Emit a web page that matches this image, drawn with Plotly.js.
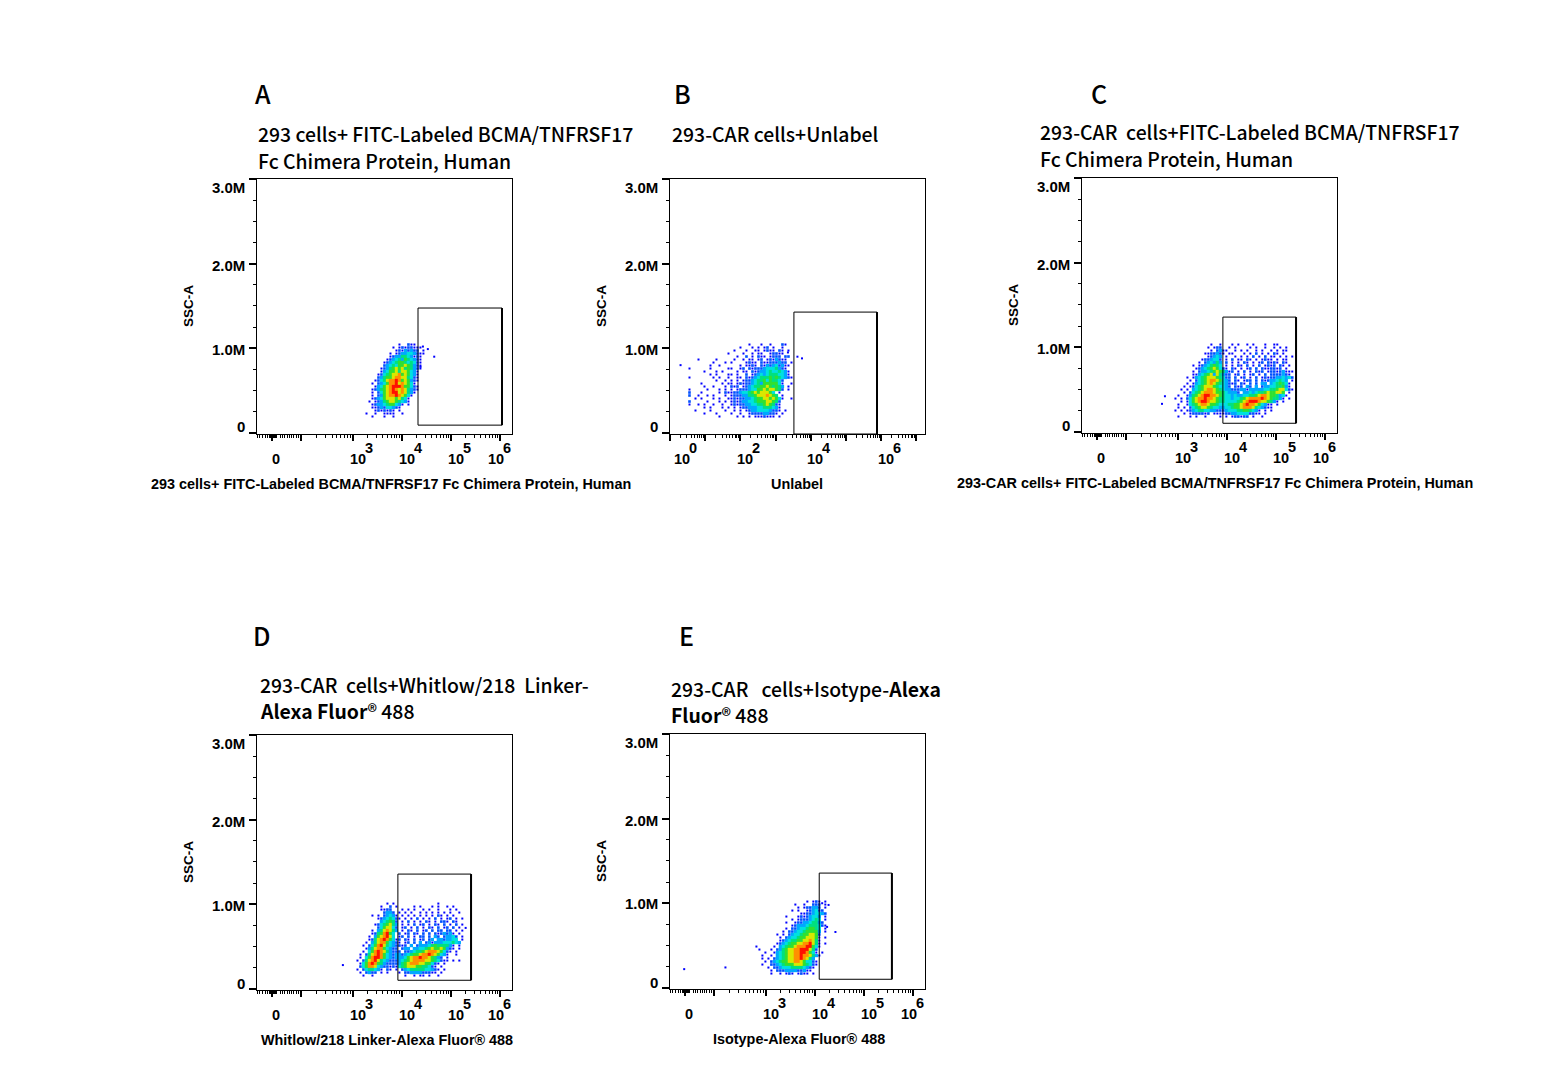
<!DOCTYPE html>
<html>
<head>
<meta charset="utf-8">
<script src="https://cdn.plot.ly/plotly-3.0.1.min.js"></script>
<style>
  html, body { margin: 0; padding: 0; background: #fff; }
</style>
</head>
<body>
<div id="chart" style="width:1556px;height:1092px"></div>
<script>
// density, 0-9 per cell, top row first ("." = no events)
const densityA = [
  "............1..211...",
  "..........1.12122111.",
  "...........12132322.1",
  ".........1.1233443211",
  ".........12335543121.",
  "........123453654321.",
  ".......1234566545421.",
  ".......2345466765321.",
  "......12356767565321.",
  "......1346675776431..",
  ".....12456778676431..",
  ".....23566788775421..",
  "....124578898676321..",
  "...1.2346889787641...",
  "....134678999866421..",
  "...1235678987875321..",
  "...1.2467899787531...",
  "...1.236788987641....",
  "...1234677767541.....",
  "..1.123567765431.....",
  "...12334566431.1.....",
  "...1123244321........",
  "....1212121.1........",
  ".1..1..1111..1.......",
  "...1...1..1.........."
];
const densityB = [
  ".......................1...1..1...21..",
  "....................1...1.1.12.1..1...",
  "..................1...1..11.1211.21.1.",
  "................1....1..1.11..12211...",
  "...................1..2.1.211.1222.22.",
  "......1.....1.....1..1.11.12.1213211..",
  "...........1...1.1....1211.211222322.1",
  "..........1..1......1.1121.2132342311.",
  "...1......1.....11..12.2122234445321..",
  "........1...1.1....1.11.2123345445431.",
  "..........1.1...11.1..2.1234345554431.",
  "...1.......1.1..1..11.2123455565654321",
  "............1..1.1.1.12234556465542...",
  ".......1......1.11.1212234536666641..1",
  "........1..1...1.212.12345566765653.1.",
  "...1.....1...1.1.1.1222344667677652.1.",
  "...2...1.....1.21122344567677764.1....",
  "...2..1..1.1...1.1222335567778765.1...",
  ".....1.1...1.1..1121223345667767641..1",
  "...2.....1...1.1.12123344566677652....",
  "...1..1.1..1..1..12122334455676521....",
  "........1.1...1.1.1.12233344555431....",
  ".....1....1....1..1.1.123344443221.1..",
  "........1...1....1..1..1222233221.1...",
  ".............1.....1.1.1.1112111.1...."
];
const densityC = [
  "................1..1...1.1..1.1...1..11.....",
  "...............1.122..1.1....1.1..1..1.1.1.",
  "................1.2311..1.1.1..1.1..1.1.11..",
  "..............1122321.11...1.1.2.1.1.21.1...",
  "...............12343.1..1.1.1.2.1.2.11.1.1.1",
  ".............1223442.1.2.11.21.1.1211.1.11..",
  "............1.234353.2.1.1.21.1.12.2121.21..",
  "..........1.12345654.1.1.21.2.1.2.1212.21.1.",
  "...........12345676421.21.1.12.2.2112212.1..",
  "..........1.233456765312.1.2.1.212.122123111",
  "..........1134567375322.12.1.12.1.2.2222321.",
  "........1.1345677765422.2.12.1.2.12122334342",
  ".........1.245678876432.21.122.2.212334543.1",
  "........1.134567876543212.21.2.2.33.3456541.",
  ".......1.12456777654432.212.32.3.2334455631.",
  "......1.1.3456788765433222331333334455677421",
  ".......1.24567888766543332.33434556766776.1.",
  ".....1..1356789988765443433445567887665341..",
  "....1.1.246788988765544344567888898765531.1.",
  "......1.1467899877655444456789998776531.1...",
  ".....1..14567887665444556678988764311.1.....",
  ".....1.1.2456776544334456678887543211.......",
  "....1.1.1234554433222344455665431.1.1.......",
  ".......1.1222212.1111223344442211.1.........",
  ".....1...1.1..1....1.1.122122.1..1.........."
];
const densityD = [
  ".............1.1..............1........",
  "...........1..2.1.....1.1...1.1..1.1...",
  "...........1122...1.1.1..1.1..1...1.1..",
  "............2332.1.1.1..1.1.1.1.1.1..1.",
  "........1.1.23431.1.1.1.1.1.1.21.1.1...",
  "..........12345421.1.1.2.1.1.2.1.12.1.1",
  "...........345652.1.2.1.1.21.1.221.21..",
  ".........12456753.1.1.2.12.1.21.2.1.2.1",
  "..........2467742.12.1.2.1.21.2.12.2.1.",
  "........1.3578753.1.21.2.12.2.22.22.1.1",
  "........12568964.2.12.21.2.2.2123231.1.",
  ".......1.3678974.12.2.1.22.2.32.23342.1",
  ".......12578986412.21.2.12.23.3323344.1",
  "......1.3578864321.12.2.3.231333444543.",
  ".....1.2468975432212.3.2333456555531.1.",
  "......13578864322.233.33445676676321.1.",
  ".....1.46898753222.2234556788876421.1..",
  "....1.2578986432332345667889876431..1..",
  "....1.46899864323334678898876532.1.....",
  "...1.25789754322234567888877654211.1.1.",
  "....146898653222235678887766421.1......",
  "....24688743221214567776655421.1.......",
  "...1.2455431.21.1.2345555544321.1......",
  "....1.2322.1.1...1.22333322211.1.......",
  ".....1..1..........1..1.11.1..1........"
];
const densityE = [
  "..................1.121.1..",
  "..............1..1..222.1..",
  "...............1.122332.1..",
  ".............1.1..123422...",
  "................112234432..",
  "...........1...12123443.1..",
  ".............1.12223454.1..",
  "...........1..1223345532...",
  ".............123334555421..",
  "...........1.2234456654.1..",
  "..........1.22344566663.1..",
  "........1.1.23445667762....",
  ".........1.234456677761.1..",
  ".........12345566778751....",
  "........123456677889751.1..",
  ".1.....1.34566788899641....",
  "..1...1.23567788999752.....",
  "....1..134567788998641.1...",
  "...1..1.345677889887531....",
  "...1.1.23456778898753......",
  "....1.2345667788764421.....",
  "...1..2234566677765421.....",
  ".....1.22344455554321......",
  "......1.222333322311.......",
  "......1..1.121.1211.1......"
];

// lone events outside the dense clouds (x in decades, y in millions)
const strayAx = [4.43, 4.53, 4.66, 4.38];
const strayAy = [1.02, 0.99, 0.90, 0.78];
const strayBx = [3.35, 3.62, 3.75, 0.30];
const strayBy = [0.95, 0.90, 0.88, 0.80];
const strayCx = [2.68, 2.74];
const strayCy = [0.33, 0.42];
const strayDx = [2.80, 5.30];
const strayDy = [0.28, 0.72];
const strayEx = [4.15, 4.28, 4.42, 1.34, 2.18, 4.25];
const strayEy = [1.00, 0.98, 0.66, 0.22, 0.24, 0.72];

// gate rectangles
const gateX = [[4.33, 6.04], [3.52, 5.88], [3.92, 5.41], [3.92, 5.41], [4.09, 5.57]];
const gateY = [[0.09, 1.476], [-0.015, 1.428], [0.10, 1.357], [0.10, 1.357], [0.10, 1.357]];

const letters = ["A", "B", "C", "D", "E"];
const titleLines = [
  ["293 cells+ FITC-Labeled BCMA/TNFRSF17", "Fc Chimera Protein, Human"],
  ["293-CAR cells+Unlabel"],
  ["293-CAR\u00a0 cells+FITC-Labeled BCMA/TNFRSF17", "Fc Chimera Protein, Human"],
  ["293-CAR\u00a0 cells+Whitlow/218\u00a0 Linker-", "<b>Alexa Fluor</b>\u00ae 488"],
  ["293-CAR\u00a0\u00a0 cells+Isotype-<b>Alexa</b>", "<b>Fluor</b>\u00ae 488"]
];
const xLabels = [
  "293 cells+ FITC-Labeled BCMA/TNFRSF17 Fc Chimera Protein, Human",
  "Unlabel",
  "293-CAR cells+ FITC-Labeled BCMA/TNFRSF17 Fc Chimera Protein, Human",
  "Whitlow/218 Linker-Alexa Fluor\u00ae 488",
  "Isotype-Alexa Fluor\u00ae 488"
];
const yTickText = ["3.0M", "2.0M", "1.0M", "0"];

// page layout of each panel, in pixels
const panels = [
  {left: 257, top: 179, range: [1.051, 6.244], x0: 3.22, dx: 0.061, y0: 1.044, z: densityA, sx: strayAx, sy: strayAy,
   letter: [263, 93], title: [256, 133, 160], xlab: [391, 484], ylab: [188, 305]},
  {left: 670, top: 179, range: [0, 7.244], x0: 0.298, dx: 0.0852, y0: 1.044, z: densityB, sx: strayBx, sy: strayBy,
   letter: [682, 93], title: [670, 133], xlab: [797, 484], ylab: [601, 305]},
  {left: 1082, top: 178, range: [1.051, 6.244], x0: 2.71, dx: 0.061, y0: 1.032, z: densityC, sx: strayCx, sy: strayCy,
   letter: [1099, 93], title: [1038, 131, 158], xlab: [1215, 483], ylab: [1013, 304]},
  {left: 257, top: 735, range: [1.051, 6.244], x0: 2.914, dx: 0.061, y0: 1.008, z: densityD, sx: strayDx, sy: strayDy,
   letter: [261, 635], title: [258, 684, 710], xlab: [387, 1040], ylab: [188, 861]},
  {left: 670, top: 734, range: [1.051, 6.244], x0: 2.75, dx: 0.061, y0: 1.02, z: densityE, sx: strayEx, sy: strayEy,
   letter: [686, 635], title: [669, 688, 714], xlab: [799, 1039], ylab: [601, 860]}
];

const W = 1556, H = 1092, BOX = 255, DY = 0.0355;
const sansBold = "Liberation Sans, Arial, sans-serif";
const captionFont = {family: sansBold, size: 14.4, color: "#000"};
const ssaFont = {family: sansBold, size: 13.5, color: "#000"};
const xTickFont = {family: sansBold, size: 14.5, color: "#000"};
const yTickFont = {family: sansBold, size: 15, color: "#000"};
const titleFont = {family: "Noto Sans CJK SC, Noto Sans, sans-serif", size: 19.4, weight: 500, color: "#000"};

const colors = [
  [0, "#0000ff"], [0.125, "#0050ff"], [0.25, "#00a8ff"], [0.375, "#00e0e0"],
  [0.5, "#00e080"], [0.625, "#30e030"], [0.75, "#d8e800"], [0.875, "#ff9000"], [1, "#ff1000"]
];

// one square marker per filled cell, thin cells stay small so the edges look speckled
function gridPoints(p) {
  let out = {x: [], y: [], c: [], s: []};
  p.z.forEach((row, r) => {
    row.split("").forEach((ch, k) => {
      if (ch === ".") return;
      let v = Number(ch);
      out.x.push(p.x0 + k * p.dx);
      out.y.push(p.y0 - r * DY);
      out.c.push(v);
      out.s.push(v === 1 ? 2 : v === 2 ? 2.6 : 3.3);
    });
  });
  return out;
}

// plain text placed by page pixel
function label(text, x, y, font, anchor, extra) {
  return Object.assign({
    text: text, x: x / W, y: 1 - y / H, xref: "paper", yref: "paper",
    xanchor: anchor || "center", yanchor: "middle", showarrow: false, font: font
  }, extra || {});
}

const logMinors = [0.30, 0.48, 0.60, 0.70, 0.78, 0.85, 0.90, 0.95];
// the squeezed part of the biexponential axis around zero
const lowTicks = [1.06, 1.11, 1.17, 1.22, 1.26, 1.30, 1.33, 1.35, 1.37, 1.39, 1.41, 1.43, 1.45,
  1.52, 1.57, 1.62, 1.67, 1.71, 1.76, 1.79, 1.85, 1.90,
  2.26, 2.45, 2.58, 2.68, 2.76, 2.84, 2.90, 2.95];

function minorTicks(first, last) {
  let out = [];
  for (let d = first; d <= last; d++) {
    logMinors.forEach(m => out.push(d + m));
  }
  return out;
}

let data = [];
let layout = {
  width: W, height: H,
  margin: {l: 0, r: 0, t: 0, b: 0},
  paper_bgcolor: "#fff", plot_bgcolor: "#fff",
  showlegend: false,
  shapes: [], annotations: []
};

panels.forEach((p, i) => {
  const n = i === 0 ? "" : String(i + 1);
  const isB = i === 1;
  const pts = gridPoints(p);
  data.push({
    type: "scatter", mode: "markers", xaxis: "x" + n, yaxis: "y" + n,
    x: pts.x, y: pts.y, hoverinfo: "skip",
    marker: {symbol: "square", size: pts.s, color: pts.c, opacity: 1, cmin: 1, cmax: 9, colorscale: colors, showscale: false, line: {width: 0}}
  });
  data.push({
    type: "scatter", mode: "markers", xaxis: "x" + n, yaxis: "y" + n,
    x: p.sx, y: p.sy, marker: {symbol: "square", size: 2, color: "#0000ff", opacity: 1, line: {width: 0}}, hoverinfo: "skip"
  });

  layout["xaxis" + n] = {
    domain: [p.left / W, (p.left + BOX) / W], range: p.range, anchor: "y" + n,
    showgrid: false, zeroline: false, showticklabels: false,
    showline: true, mirror: true, linecolor: "#000", linewidth: 1,
    ticks: "outside", tickmode: "array", ticklen: 6, tickwidth: 2, tickcolor: "#000",
    tickvals: isB ? [0, 1, 2, 3, 4, 5, 6, 7] : [1.36, 1.94, 3, 4, 5, 6],
    minor: {
      ticks: "outside", ticklen: 3, tickwidth: 1, tickcolor: "#000", tickmode: "array",
      tickvals: isB ? minorTicks(0, 6) : lowTicks.concat(minorTicks(3, 5))
    },
    fixedrange: true
  };
  layout["yaxis" + n] = {
    domain: [1 - (p.top + BOX) / H, 1 - p.top / H], range: [-0.015, 3.003], anchor: "x" + n,
    showgrid: false, zeroline: false, showticklabels: false,
    showline: true, mirror: true, linecolor: "#000", linewidth: 1,
    ticks: "outside", tickmode: "array", ticklen: 7, tickwidth: 2, tickcolor: "#000",
    tickvals: [0, 1, 2, 3],
    minor: {
      ticks: "outside", ticklen: 3, tickwidth: 1, tickcolor: "#000", tickmode: "array",
      tickvals: [0.25, 0.5, 0.75, 1.25, 1.5, 1.75, 2.25, 2.5, 2.75]
    },
    fixedrange: true
  };

  // gate, its right edge is drawn heavier in the original
  const gx = gateX[i], gy = gateY[i];
  layout.shapes.push({type: "rect", xref: "x" + n, yref: "y" + n, x0: gx[0], x1: gx[1], y0: gy[0], y1: gy[1],
    line: {color: "#000", width: 1}, layer: "above"});
  layout.shapes.push({type: "line", xref: "x" + n, yref: "y" + n, x0: gx[1], x1: gx[1], y0: gy[0], y1: gy[1],
    line: {color: "#000", width: 2}, layer: "above"});

  // panel letter and title lines
  layout.annotations.push(label(letters[i], p.letter[0], p.letter[1],
    {family: titleFont.family, size: 25, weight: 500, color: "#000"}));
  titleLines[i].forEach((line, k) => {
    layout.annotations.push(label(line, p.title[0], p.title[k + 1], titleFont, "left"));
  });

  // axis captions
  layout.annotations.push(label("<b>" + xLabels[i] + "</b>", p.xlab[0], p.xlab[1], captionFont));
  layout.annotations.push(label("<b>SSC-A</b>", p.ylab[0], p.ylab[1] + 1, ssaFont, "center", {textangle: -90}));

  // y tick captions sit a little off their ticks, as in the original
  [8, 86, 170, 248].forEach((off, k) => {
    layout.annotations.push(label("<b>" + yTickText[k] + "</b>", p.left - 10, p.top + off, yTickFont, "right"));
  });

  // x tick captions
  const baseY = p.top + 280, expY = p.top + 269;
  if (isB) {
    [[12, "0"], [75, "2"], [145, "4"], [216, "6"]].forEach(t => {
      layout.annotations.push(label("<b>10</b>", p.left + t[0], baseY, xTickFont));
      layout.annotations.push(label("<b>" + t[1] + "</b>", p.left + t[0] + 11, expY, xTickFont));
    });
  } else {
    layout.annotations.push(label("<b>0</b>", p.left + 19, baseY, xTickFont));
    [[101, "3"], [150, "4"], [199, "5"], [239, "6"]].forEach(t => {
      layout.annotations.push(label("<b>10</b>", p.left + t[0], baseY, xTickFont));
      layout.annotations.push(label("<b>" + t[1] + "</b>", p.left + t[0] + 11, expY, xTickFont));
    });
  }
});

Plotly.newPlot("chart", data, layout, {displayModeBar: false, staticPlot: true});
</script>
</body>
</html>
